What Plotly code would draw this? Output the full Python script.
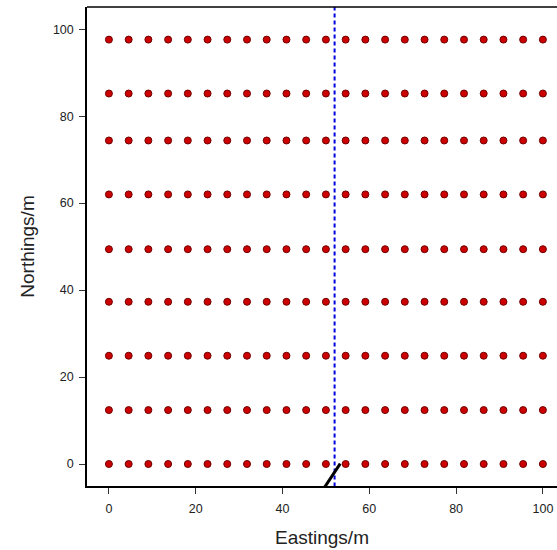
import plotly.graph_objects as go

eastings = [0, 4.55, 9.09, 13.64, 18.18, 22.73, 27.27, 31.82, 36.36, 40.91, 45.45, 50.0,
            54.55, 59.09, 63.64, 68.18, 72.73, 77.27, 81.82, 86.36, 90.91, 95.45, 100.0]
northings = [0, 12.4, 24.9, 37.3, 49.4, 62.0, 74.4, 85.2, 97.6]
dashed_x = 52.0
seg_x = [49.6, 53.3]
seg_y = [-5.5, 0.1]
tick_vals = [0, 20, 40, 60, 80, 100]

gx = [e for n in northings for e in eastings]
gy = [n for n in northings for e in eastings]

fig = go.Figure()
fig.add_trace(go.Scatter(x=[dashed_x, dashed_x], y=[-10, 110], mode="lines",
                         line=dict(color="#0000dd", width=2, dash="4px,3px"),
                         showlegend=False, hoverinfo="skip"))
fig.add_trace(go.Scatter(x=gx, y=gy, mode="markers",
                         marker=dict(size=7, color="#cc0000", line=dict(color="#700000", width=1)),
                         showlegend=False))
fig.add_trace(go.Scatter(x=seg_x, y=seg_y, mode="lines",
                         line=dict(color="black", width=3), showlegend=False))

fig.add_shape(type="line", xref="paper", yref="paper", x0=0, x1=1.01, y0=1, y1=1,
              line=dict(color="black", width=1.5))

fig.update_layout(
    width=557, height=550,
    margin=dict(l=87, r=0, t=7, b=64),
    plot_bgcolor="white", paper_bgcolor="white",
    font=dict(family="Liberation Sans, Arial, sans-serif", color="#222222", size=12.5),
)
fig.update_xaxes(range=[-5.05, 103.25], showgrid=False, zeroline=False,
                 showline=True, linecolor="black", linewidth=1.5,
                 ticks="outside", ticklen=6, tickwidth=1.2, tickcolor="#333",
                 tickvals=tick_vals, ticklabelstandoff=4,
                 title=dict(text="Eastings/m", font=dict(size=19), standoff=16))
fig.update_yaxes(range=[-5.06, 105.1], showgrid=False, zeroline=False,
                 showline=True, linecolor="black", linewidth=1.5,
                 ticks="outside", ticklen=6, tickwidth=1.2, tickcolor="#333",
                 tickvals=tick_vals, ticklabelstandoff=3,
                 title=dict(text="Northings/m", font=dict(size=19), standoff=13))
fig.write_html("out.html")
